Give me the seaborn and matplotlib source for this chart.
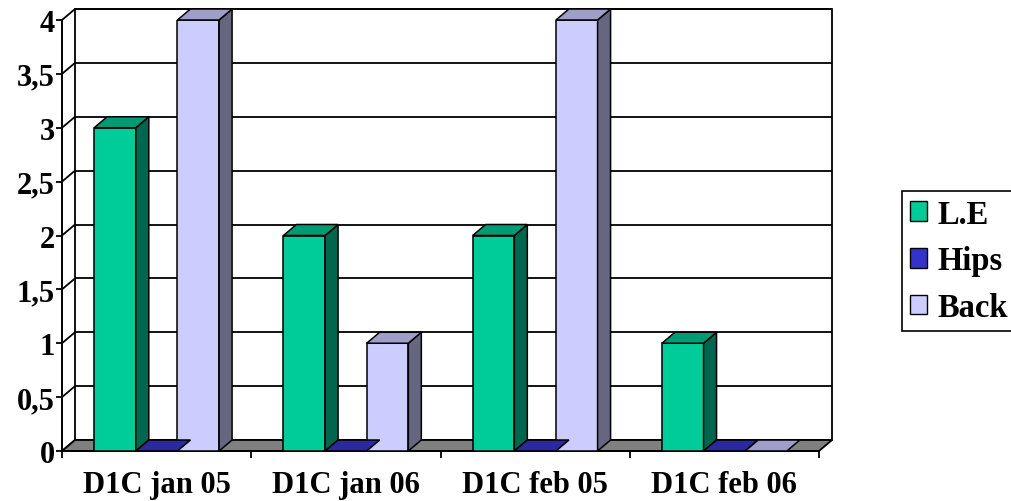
import numpy as np
import pandas as pd
import matplotlib
matplotlib.use("Agg")
import matplotlib.pyplot as plt
import seaborn as sns
from matplotlib.patches import Polygon, Patch
from matplotlib.colors import to_hex

# ---- data ----
categories = ["D1C jan 05", "D1C jan 06", "D1C feb 05", "D1C feb 06"]
series = ["L.E", "Hips", "Back"]
le_values = [3, 2, 2, 1]
hips_values = [0, 0, 0, 0]
back_values = [4, 1, 4, 0]
y_ticks = [0, 0.5, 1, 1.5, 2, 2.5, 3, 3.5, 4]
y_tick_labels = ["0", "0,5", "1", "1,5", "2", "2,5", "3", "3,5", "4"]

# ---- colours for the three faces of each box ----
front_colors = {"L.E": "#00cc99", "Hips": "#3333cc", "Back": "#ccccff"}
top_colors = {"L.E": "#009b74", "Hips": "#2a2a9a", "Back": "#9e9ec8"}
side_colors = {"L.E": "#00664e", "Hips": "#1e1e70", "Back": "#666680"}
floor_color = "#808080"

sns.set_theme(style="white")
plt.rcParams["font.family"] = ["Liberation Serif", "DejaVu Serif"]
plt.rcParams["font.weight"] = "bold"
plt.rcParams["text.color"] = "black"
plt.rcParams["xtick.color"] = "black"
plt.rcParams["ytick.color"] = "black"

FS = 22
LEG_FS = 23.5

W, H = 1011, 502
fig = plt.figure(figsize=(W / 100, H / 100), dpi=100)
# axes = front plane of the 3-D box
ax_w_px, ax_h_px = 757, 431
ax = fig.add_axes([62 / W, 50 / H, ax_w_px / W, ax_h_px / H])

df = pd.concat(
    [pd.DataFrame({"category": categories, "series": s, "value": v})
     for s, v in zip(series, [le_values, hips_values, back_values])],
    ignore_index=True,
)

sns.barplot(
    data=df, x="category", y="value", hue="series",
    order=categories, hue_order=series, palette=front_colors,
    saturation=1, width=0.66, edgecolor="black", linewidth=1.1,
    errorbar=None, legend=False, ax=ax, zorder=3,
)

xmin, xmax, ymin, ymax = -0.5, 3.5, 0, 4
ax.set_xlim(xmin, xmax)
ax.set_ylim(ymin, ymax)

# depth offsets (in data units) for walls and boxes
ddx = 13 * (xmax - xmin) / ax_w_px
ddy = 11 * (ymax - ymin) / ax_h_px

def poly(pts, fc, z, lw=1.1):
    p = Polygon(pts, closed=True, facecolor=fc, edgecolor="black",
                linewidth=lw, zorder=z, clip_on=False, joinstyle="miter")
    ax.add_patch(p)

# 3-D faces on top of the seaborn bars
name_by_color = {v: k for k, v in front_colors.items()}
for bar in list(ax.patches):
    name = name_by_color.get(to_hex(bar.get_facecolor()))
    if name is None:
        continue
    x0 = bar.get_x()
    x1 = x0 + bar.get_width()
    h = bar.get_height()
    poly([(x0, h), (x1, h), (x1 + ddx, h + ddy), (x0 + ddx, h + ddy)],
         top_colors[name], 3.2)
    if h > 0:
        poly([(x1, 0), (x1 + ddx, ddy), (x1 + ddx, h + ddy), (x1, h)],
             side_colors[name], 3.1)

# back wall with gridlines
poly([(xmin + ddx, ymin + ddy), (xmax + ddx, ymin + ddy),
      (xmax + ddx, ymax + ddy), (xmin + ddx, ymax + ddy)], "white", 0.5, lw=1.3)
for v in y_ticks:
    ax.plot([xmin + ddx, xmax + ddx], [v + ddy, v + ddy], color="black",
            lw=1.3, zorder=0.6, clip_on=False, solid_capstyle="butt")
    # side wall diagonals
    ax.plot([xmin, xmin + ddx], [v, v + ddy], color="black",
            lw=1.3, zorder=0.6, clip_on=False)

# floor
poly([(xmin, ymin), (xmax, ymin), (xmax + ddx, ymin + ddy),
      (xmin + ddx, ymin + ddy)], floor_color, 1, lw=1.3)

# axes, ticks and labels
for s in ["top", "right"]:
    ax.spines[s].set_visible(False)
for s in ["left", "bottom"]:
    ax.spines[s].set_color("black")
    ax.spines[s].set_linewidth(1.4)
ax.set_facecolor("none")
ax.grid(False)

ax.set_yticks(y_ticks)
ax.set_yticklabels(y_tick_labels)
ax.tick_params(axis="y", direction="out", length=4, width=1.3, pad=1,
               labelsize=FS, colors="black", left=True)

ax.set_xticks([-0.5, 0.5, 1.5, 2.5, 3.5])
ax.set_xticklabels([])
ax.tick_params(axis="x", which="major", direction="out", length=5,
               width=1.3, bottom=True, colors="black")
ax.set_xticks(range(len(categories)), minor=True)
ax.set_xticklabels(categories, minor=True)
ax.tick_params(axis="x", which="minor", length=0, pad=14, labelsize=FS,
               colors="black")
for lbl in ax.get_xticklabels(minor=True) + ax.get_yticklabels():
    lbl.set_fontweight("bold")
    lbl.set_color("black")
ax.set_xlabel("")
ax.set_ylabel("")

# legend
handles = [Patch(facecolor=front_colors[s], edgecolor="black", linewidth=1.0)
           for s in series]
leg = fig.legend(
    handles, series, loc="upper left",
    bbox_to_anchor=(902 / W, 1 - 192 / H), borderaxespad=0,
    frameon=True, fancybox=False, edgecolor="black", framealpha=1,
    handlelength=0.54, handleheight=0.54, handletextpad=0.32,
    labelspacing=0.485, borderpad=0.23,
    prop=dict(size=LEG_FS, weight="bold"),
)
leg.get_frame().set_linewidth(1.2)
for t in leg.get_texts():
    t.set_color("black")

fig.savefig("out.png", dpi=100)
